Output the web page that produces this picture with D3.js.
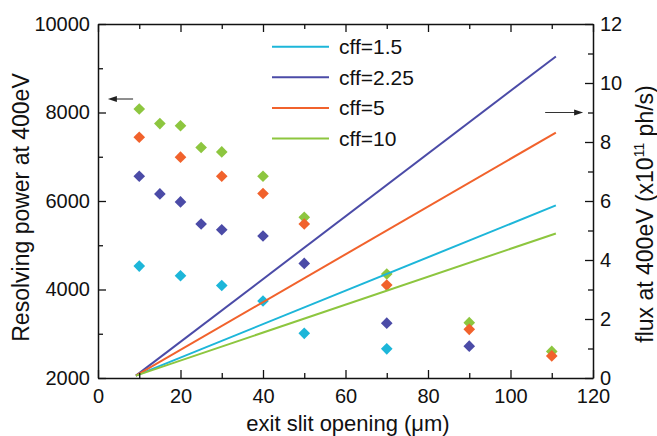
<!DOCTYPE html>
<html>
<head>
<meta charset="utf-8">
<script src="https://cdn.jsdelivr.net/npm/d3@7"></script>
<style>
  html, body { margin: 0; padding: 0; background: #fff; }
  svg { display: block; }
  text { font-family: "Liberation Sans", Arial, Helvetica, sans-serif; fill: #111; }
</style>
</head>
<body>
<svg id="chart" width="657" height="436"></svg>
<script>
// ---------------- data ----------------
const cffLabels = ["cff=1.5", "cff=2.25", "cff=5", "cff=10"];
const seriesColors = ["#1db6d9", "#4b4ba7", "#f1622c", "#8dc63f"];

// Resolving power (left axis), diamonds
const rpX_cff15  = [10, 20, 30, 40, 50, 70];
const rp_cff15   = [4530, 4310, 4090, 3740, 3010, 2660];
const rpX_cff225 = [10, 15, 20, 25, 30, 40, 50, 70, 90];
const rp_cff225  = [6560, 6160, 5980, 5480, 5350, 5210, 4590, 3240, 2720];
const rpX_cff5   = [10, 20, 30, 40, 50, 70, 90, 110];
const rp_cff5    = [7440, 6990, 6560, 6170, 5480, 4100, 3100, 2500];
const rpX_cff10  = [10, 15, 20, 25, 30, 40, 50, 70, 90, 110];
const rp_cff10   = [8080, 7750, 7700, 7210, 7110, 6560, 5630, 4350, 3250, 2600];

// Flux (right axis, x10^11 ph/s), straight lines
const fluxX       = [9.2, 111];
const flux_cff15  = [0.08, 5.85];
const flux_cff225 = [0.08, 10.9];
const flux_cff5   = [0.08, 8.32];
const flux_cff10  = [0.08, 4.9];

// ticks
const xTicks = [0, 20, 40, 60, 80, 100, 120];
const xMinor = [10, 30, 50, 70, 90, 110];
const yLTicks = [2000, 4000, 6000, 8000, 10000];
const yLMinor = [3000, 5000, 7000, 9000];
const yRTicks = [0, 2, 4, 6, 8, 10, 12];
const yRMinor = [1, 3, 5, 7, 9, 11];

// ---------------- chart ----------------
const svg = d3.select("#chart");
const L = 98, R = 593, T = 24, B = 378;

const x  = d3.scaleLinear().domain([0, 120]).range([L, R]);
const yL = d3.scaleLinear().domain([2000, 10000]).range([B, T]);
const yR = d3.scaleLinear().domain([0, 12]).range([B, T]);

const rpSeries = [
  { xs: rpX_cff10,  ys: rp_cff10,  c: 3 },
  { xs: rpX_cff5,   ys: rp_cff5,   c: 2 },
  { xs: rpX_cff225, ys: rp_cff225, c: 1 },
  { xs: rpX_cff15,  ys: rp_cff15,  c: 0 }
];
const fluxSeries = [
  { ys: flux_cff15,  c: 0 },
  { ys: flux_cff225, c: 1 },
  { ys: flux_cff5,   c: 2 },
  { ys: flux_cff10,  c: 3 }
];

// diamonds
const diamond = d3.symbol().type(d3.symbolSquare).size(68);
rpSeries.forEach(s => {
  svg.append("g").selectAll("path")
    .data(s.xs.map((v, i) => [v, s.ys[i]]))
    .join("path")
    .attr("d", diamond)
    .attr("transform", d => `translate(${x(d[0])},${yL(d[1])}) rotate(45)`)
    .attr("fill", seriesColors[s.c]);
});

// flux lines
const line = d3.line().x((d) => x(d[0])).y((d) => yR(d[1]));
fluxSeries.forEach(s => {
  svg.append("path")
    .datum(fluxX.map((v, i) => [v, s.ys[i]]))
    .attr("d", line)
    .attr("fill", "none")
    .attr("stroke", seriesColors[s.c])
    .attr("stroke-width", 2);
});

// axes
function styleAxis(g) {
  g.select(".domain").attr("stroke", "#111").attr("stroke-width", 1.5);
  g.selectAll(".tick line").attr("stroke", "#111").attr("stroke-width", 1.3);
  g.selectAll(".tick text").attr("font-size", 20).attr("fill", "#111")
    .attr("font-family", "'Liberation Sans', Arial, sans-serif");
}
// bottom
svg.append("g").attr("transform", `translate(0,${B})`)
  .call(d3.axisBottom(x).tickValues(xTicks).tickFormat(d3.format("d"))
    .tickSizeInner(-8).tickSizeOuter(0).tickPadding(11))
  .call(styleAxis);
svg.append("g").attr("transform", `translate(0,${B})`)
  .call(d3.axisBottom(x).tickValues(xMinor).tickFormat("")
    .tickSizeInner(-5).tickSizeOuter(0))
  .call(styleAxis).select(".domain").remove();
// top
svg.append("g").attr("transform", `translate(0,${T})`)
  .call(d3.axisTop(x).tickValues(xTicks).tickFormat("")
    .tickSizeInner(-8).tickSizeOuter(0))
  .call(styleAxis);
svg.append("g").attr("transform", `translate(0,${T})`)
  .call(d3.axisTop(x).tickValues(xMinor).tickFormat("")
    .tickSizeInner(-5).tickSizeOuter(0))
  .call(styleAxis).select(".domain").remove();
// left
svg.append("g").attr("transform", `translate(${L},0)`)
  .call(d3.axisLeft(yL).tickValues(yLTicks).tickFormat(d3.format("d"))
    .tickSizeInner(-8).tickSizeOuter(0).tickPadding(8))
  .call(styleAxis);
svg.append("g").attr("transform", `translate(${L},0)`)
  .call(d3.axisLeft(yL).tickValues(yLMinor).tickFormat("")
    .tickSizeInner(-5).tickSizeOuter(0))
  .call(styleAxis).select(".domain").remove();
// right
svg.append("g").attr("transform", `translate(${R},0)`)
  .call(d3.axisRight(yR).tickValues(yRTicks).tickFormat(d3.format("d"))
    .tickSizeInner(-8).tickSizeOuter(0).tickPadding(7))
  .call(styleAxis);
svg.append("g").attr("transform", `translate(${R},0)`)
  .call(d3.axisRight(yR).tickValues(yRMinor).tickFormat("")
    .tickSizeInner(-5).tickSizeOuter(0))
  .call(styleAxis).select(".domain").remove();

// axis titles
svg.append("text")
  .attr("x", 348).attr("y", 431)
  .attr("text-anchor", "middle").attr("font-size", 22)
  .text("exit slit opening (\u03bcm)");

svg.append("text")
  .attr("transform", "translate(29,207.5) rotate(-90)")
  .attr("text-anchor", "middle").attr("font-size", 23)
  .text("Resolving power at 400eV");

const rt = svg.append("text")
  .attr("transform", "translate(653,214) rotate(-90)")
  .attr("text-anchor", "middle").attr("font-size", 23);
rt.append("tspan").text("flux at 400eV (x10");
rt.append("tspan").attr("font-size", 14).attr("dy", -9).text("11");
rt.append("tspan").attr("dy", 9).text(" ph/s)");

// legend
const legendY0 = 46.7, legendDY = 30.6;
cffLabels.forEach((lab, i) => {
  const yy = legendY0 + i * legendDY;
  svg.append("line")
    .attr("x1", 272).attr("x2", 329).attr("y1", yy).attr("y2", yy)
    .attr("stroke", seriesColors[i]).attr("stroke-width", 2);
  svg.append("text")
    .attr("x", 339).attr("y", yy).attr("dy", "0.36em")
    .attr("font-size", 21).text(lab);
});

// arrows
function arrow(x1, x2, yy) {
  const dir = Math.sign(x2 - x1);
  svg.append("line")
    .attr("x1", x1).attr("x2", x2 - dir * 6).attr("y1", yy).attr("y2", yy)
    .attr("stroke", "#333").attr("stroke-width", 1.1);
  svg.append("path")
    .attr("d", `M${x2},${yy} L${x2 - dir * 9},${yy - 3} L${x2 - dir * 9},${yy + 3} Z`)
    .attr("fill", "#222");
}
arrow(x(8.5), x(2.4), yL(8305));
arrow(x(108.4), x(117.6), yR(9.0));
</script>
</body>
</html>
